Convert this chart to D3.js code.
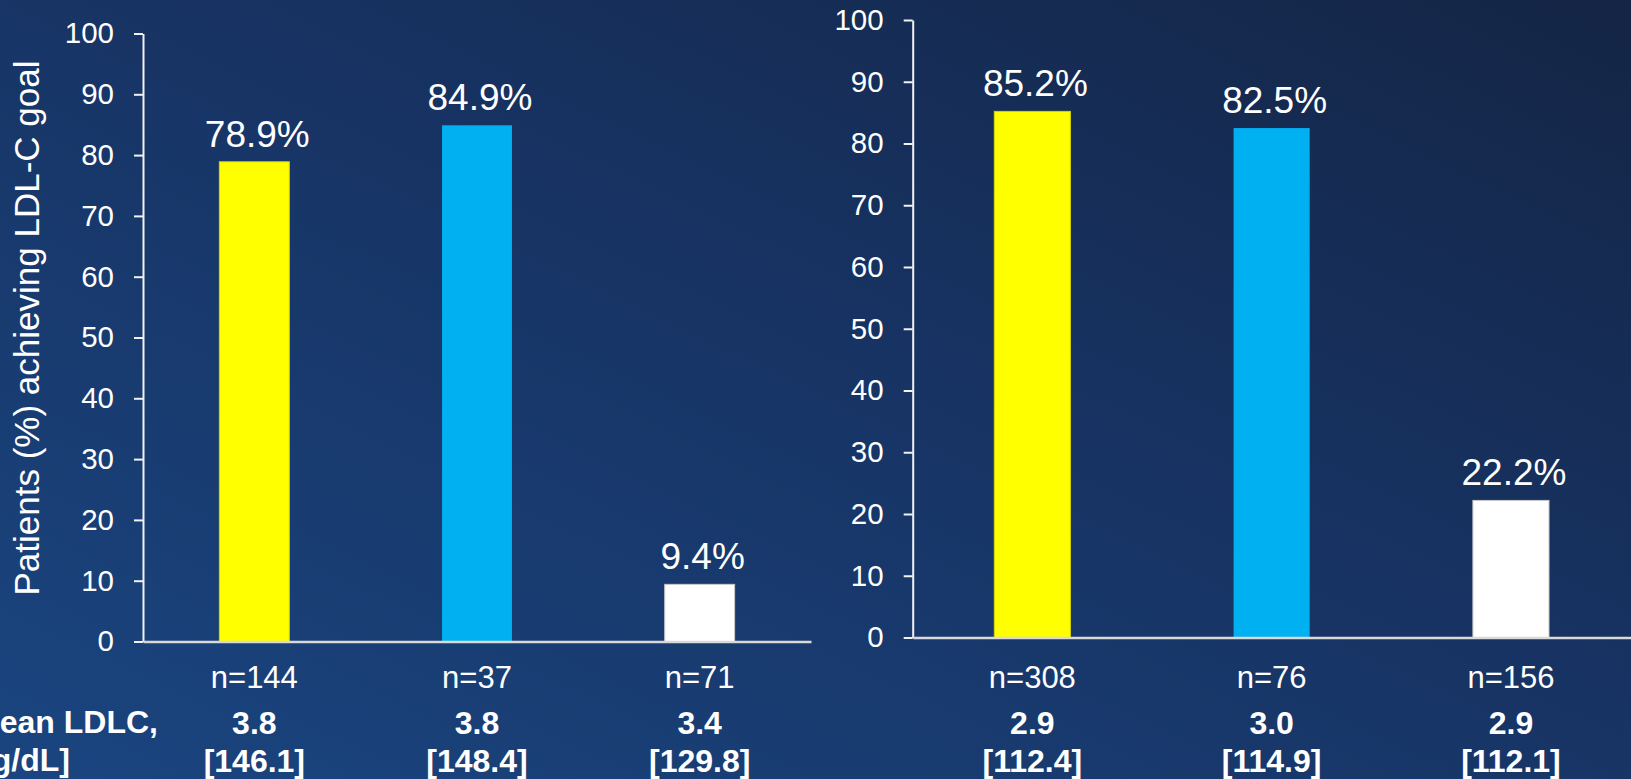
<!DOCTYPE html>
<html>
<head>
<meta charset="utf-8">
<script src="https://cdn.jsdelivr.net/npm/d3@7"></script>
<style>
html,body{margin:0;padding:0;overflow:hidden;background:#16305a;}
svg{display:block;}
text{font-family:"Liberation Sans",Arial,sans-serif;fill:#ffffff;}
</style>
</head>
<body>
<svg id="chart" width="1631" height="779"></svg>
<script>
// ---- data ----
const leftCategories = ["n=144", "n=37", "n=71"];
const leftValues = [78.9, 84.9, 9.4];
const leftMmol = ["3.8", "3.8", "3.4"];
const leftMgdl = ["[146.1]", "[148.4]", "[129.8]"];

const rightCategories = ["n=308", "n=76", "n=156"];
const rightValues = [85.2, 82.5, 22.2];
const rightMmol = ["2.9", "3.0", "2.9"];
const rightMgdl = ["[112.4]", "[114.9]", "[112.1]"];

const barColors = ["#ffff00", "#00b0f0", "#ffffff"];
const yTicks = [0, 10, 20, 30, 40, 50, 60, 70, 80, 90, 100];
const yTitle = "Patients (%) achieving LDL-C goal";
const rowLabel1 = "Mean LDLC,";
const rowLabel2 = "mmol/L [mg/dL]";

// ---- drawing ----
const svg = d3.select("#chart");
const W = 1631, H = 779;

const defs = svg.append("defs");
const grad = defs.append("linearGradient").attr("id", "bg")
  .attr("x1", "100%").attr("y1", "0%").attr("x2", "0%").attr("y2", "100%");
grad.append("stop").attr("offset", "0%").attr("stop-color", "#142545");
grad.append("stop").attr("offset", "45%").attr("stop-color", "#173363");
grad.append("stop").attr("offset", "100%").attr("stop-color", "#1a4580");
svg.append("rect").attr("width", W).attr("height", H).attr("fill", "url(#bg)");

function panel(cfg) {
  const x = d3.scaleBand().domain(cfg.categories)
    .range([cfg.x0, cfg.x1]).paddingInner(cfg.pad).paddingOuter(cfg.pad / 2);
  const y = d3.scaleLinear().domain([0, 100]).range([cfg.y0, cfg.y100]);
  const g = svg.append("g");

  // bars
  g.selectAll("rect.bar").data(cfg.values).join("rect")
    .attr("class", "bar")
    .attr("x", (d, i) => x(cfg.categories[i]))
    .attr("width", x.bandwidth())
    .attr("y", d => y(d))
    .attr("height", d => y(0) - y(d))
    .attr("fill", (d, i) => barColors[i])
    .attr("stroke", (d, i) => i === 2 ? "#c8c8c8" : (i === 0 ? "#d6d600" : "none"))
    .attr("stroke-width", 1);

  // value labels
  g.selectAll("text.val").data(cfg.values).join("text")
    .attr("class", "val")
    .attr("x", (d, i) => x(cfg.categories[i]) + x.bandwidth() / 2 + 3)
    .attr("y", d => y(d) - 15)
    .attr("text-anchor", "middle")
    .style("font-size", "37px")
    .text(d => d.toFixed(1) + "%");

  // y axis
  const ya = g.append("g").attr("transform", `translate(${cfg.x0},0)`)
    .call(d3.axisLeft(y).tickValues(yTicks).tickSize(9).tickSizeOuter(0).tickPadding(20));
  ya.select(".domain").attr("stroke", "#f2f2f2").attr("stroke-width", 2);
  ya.selectAll(".tick line").attr("stroke", "#f2f2f2").attr("stroke-width", 2);
  ya.selectAll(".tick text").style("font-size", "29.5px").attr("fill", "#ffffff")
    .style("font-family", "'Liberation Sans',Arial,sans-serif");

  // x axis line
  const xa = g.append("g").attr("transform", `translate(0,${cfg.y0})`)
    .call(d3.axisBottom(x).tickSize(0).tickSizeOuter(0).tickFormat(""));
  xa.select(".domain").attr("stroke", "#d9d9d9").attr("stroke-width", 2.5);

  // category labels
  g.selectAll("text.n").data(cfg.categories).join("text")
    .attr("class", "n")
    .attr("x", d => x(d) + x.bandwidth() / 2)
    .attr("y", 688)
    .attr("text-anchor", "middle")
    .style("font-size", "31px")
    .text(d => d);
  g.selectAll("text.mm").data(cfg.mmol).join("text")
    .attr("class", "mm")
    .attr("x", (d, i) => x(cfg.categories[i]) + x.bandwidth() / 2)
    .attr("y", 734)
    .attr("text-anchor", "middle")
    .style("font-size", "32px").style("font-weight", "bold")
    .text(d => d);
  g.selectAll("text.mg").data(cfg.mgdl).join("text")
    .attr("class", "mg")
    .attr("x", (d, i) => x(cfg.categories[i]) + x.bandwidth() / 2)
    .attr("y", 772)
    .attr("text-anchor", "middle")
    .style("font-size", "32px").style("font-weight", "bold")
    .text(d => d);
}

panel({categories: leftCategories, values: leftValues, mmol: leftMmol, mgdl: leftMgdl,
  x0: 143, x1: 811, y0: 641.5, y100: 33.5, pad: 0.686});
panel({categories: rightCategories, values: rightValues, mmol: rightMmol, mgdl: rightMgdl,
  x0: 912.7, x1: 1630.6, y0: 637.5, y100: 20, pad: 0.682});

// y title
svg.append("text")
  .attr("transform", "translate(39,328) rotate(-90)")
  .attr("text-anchor", "middle")
  .style("font-size", "35px")
  .text(yTitle);

// row label (cut off at the left edge, as in the reference)
svg.append("text").attr("x", 158).attr("y", 733).attr("text-anchor", "end")
  .style("font-size", "32px").style("font-weight", "bold").text(rowLabel1);
svg.append("text").attr("x", 70).attr("y", 771).attr("text-anchor", "end")
  .style("font-size", "32px").style("font-weight", "bold").text(rowLabel2);
</script>
</body>
</html>
